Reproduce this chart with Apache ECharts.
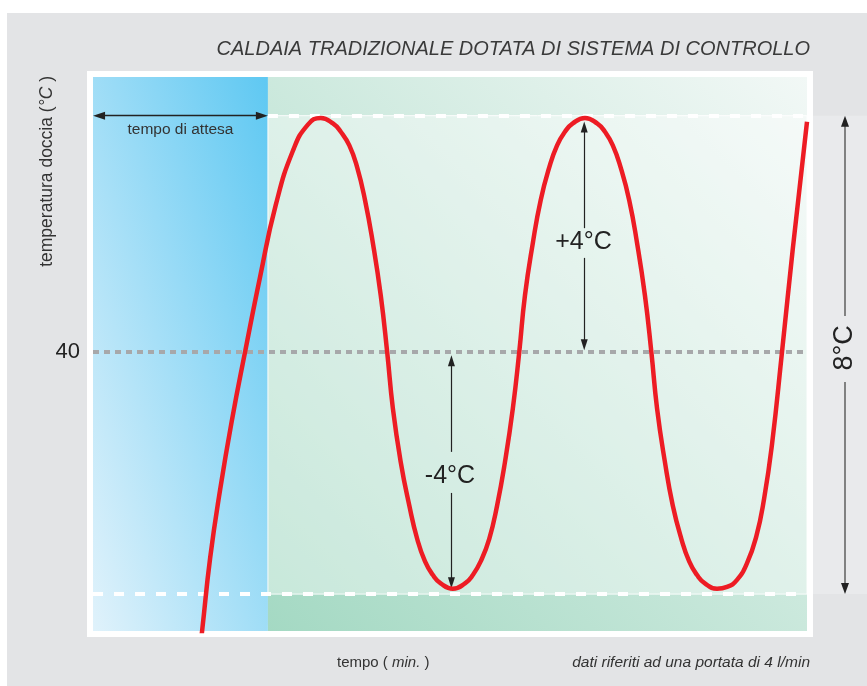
<!DOCTYPE html>
<html>
<head>
<meta charset="utf-8">
<title>Caldaia tradizionale dotata di sistema di controllo</title>
<script src="https://cdn.jsdelivr.net/npm/echarts@6/dist/echarts.min.js"></script>
<style>
  html, body { margin: 0; padding: 0; background: #fff; }
  #chart { width: 867px; height: 686px; }
</style>
</head>
<body>
<div id="chart"></div>
<script>
// tempo (min.) - scala
var tempo = [1.47, 1.53, 1.64, 1.78, 1.95, 2.13, 2.34, 2.56, 2.80, 3.01, 3.19,
  3.36, 3.47, 3.59, 3.70, 3.81, 3.92, 4.03, 4.12,
  4.20, 4.31, 4.43, 4.54, 4.65, 4.76, 4.87, 5.04,
  5.21, 5.32, 5.43, 5.55, 5.66, 5.77, 5.88, 5.97,
  6.05, 6.16, 6.27, 6.39, 6.50, 6.61, 6.72, 6.89,
  7.06, 7.17, 7.28, 7.39, 7.51, 7.62, 7.73, 7.82,
  7.90, 8.01, 8.12, 8.24, 8.35, 8.46, 8.57, 8.74,
  8.88, 9.02, 9.16, 9.29, 9.40, 9.51, 9.65, 9.80, 10.00]
// temperatura doccia (°C)
var temperatura = [34.71, 35.33, 36.53, 37.68, 38.88, 40.00, 41.26, 42.47, 43.38, 43.82, 43.93,
  43.84, 43.70, 43.47, 43.10, 42.55, 41.83, 40.95, 40.00,
  39.05, 38.15, 37.42, 36.86, 36.48, 36.25, 36.11, 36.02,
  36.11, 36.25, 36.48, 36.86, 37.42, 38.15, 39.05, 40.00,
  40.95, 41.83, 42.55, 43.10, 43.47, 43.70, 43.84, 43.93,
  43.84, 43.70, 43.47, 43.10, 42.55, 41.83, 40.95, 40.00,
  39.05, 38.15, 37.42, 36.86, 36.48, 36.25, 36.11, 36.02,
  36.05, 36.17, 36.45, 36.90, 37.54, 38.45, 40.00, 41.72, 43.87]

var tempoMax = 10
var tempoAttesa = 2.45
var tempRif = 40
var limSup = 43.97
var limInf = 35.93
var yMin = 35.31
var yMax = 44.62

// posizioni delle frecce +4 / -4 e delle scritte
var xPiu = 6.88, xMeno = 5.02
var etichette = ['40', '+4°C', '-4°C', '8°C', 'tempo di attesa']

var font = "'Liberation Sans', Arial, sans-serif"
var nero = '#222'

var chart = echarts.init(document.getElementById('chart'), null, { renderer: 'canvas' })

var blu = new echarts.graphic.LinearGradient(0, 1, 1.82, 0.82, [
  { offset: 0, color: '#e0f2fb' },
  { offset: 1, color: '#5ec8f2' }
])
var verde = new echarts.graphic.LinearGradient(0, 1, 1, 0, [
  { offset: 0, color: '#a4d9c3' },
  { offset: 1, color: '#f2f8f6' }
])

function freccia(x1, y1, x2, y2) {
  return [
    { coord: [x1, y1], symbol: 'none' },
    { coord: [x2, y2], symbol: 'triangle', symbolSize: [7, 11], lineStyle: { color: nero, width: 1.2, type: 'solid' } }
  ]
}

chart.setOption({
  animation: false,
  title: {
    text: 'CALDAIA TRADIZIONALE DOTATA DI SISTEMA DI CONTROLLO',
    right: 57,
    top: 39,
    padding: 0,
    textStyle: {
      fontFamily: font,
      fontStyle: 'italic',
      fontWeight: 'normal',
      fontSize: 20,
      color: '#3a3a3a'
    }
  },
  grid: {
    left: 93, right: 60, top: 77, bottom: 55,
    show: true,
    backgroundColor: 'transparent',
    borderColor: '#fff',
    borderWidth: 12
  },
  xAxis: { type: 'value', min: 0, max: tempoMax, show: false },
  yAxis: { type: 'value', min: yMin, max: yMax, show: false },
  series: [{
    type: 'line',
    data: tempo.map(function (t, i) { return [t, temperatura[i]] }),
    smooth: 0.5,
    showSymbol: false,
    z: 3,
    lineStyle: { color: '#ed1c24', width: 4.5 },
    markArea: {
      silent: true,
      z: 1,
      data: [
        [{ xAxis: 0, itemStyle: { color: blu } }, { xAxis: tempoAttesa }],
        [{ xAxis: tempoAttesa, itemStyle: { color: verde } }, { xAxis: tempoMax }],
        [{ xAxis: tempoAttesa, yAxis: limInf, itemStyle: { color: 'rgba(255,255,255,0.38)', borderColor: 'rgba(255,255,255,0.9)', borderWidth: 1 } },
         { xAxis: tempoMax, yAxis: limSup }]
      ]
    },
    markLine: {
      silent: true,
      z: 2,
      symbol: 'none',
      label: { show: false },
      data: [
        { yAxis: tempRif,
          lineStyle: { color: '#a7a8aa', width: 4, type: [6, 5] },
          label: { show: true, position: 'start', distance: 13, formatter: etichette[0], fontSize: 22, color: nero, fontFamily: font } },
        [{ coord: [tempoAttesa, limSup] }, { coord: [tempoMax, limSup], lineStyle: { color: '#fff', width: 4, type: [10, 11] } }],
        { yAxis: limInf, lineStyle: { color: '#fff', width: 4, type: [10, 11] } },
        [{ coord: [0.085, limSup], symbol: 'triangle', symbolSize: [8, 12] },
         { coord: [tempoAttesa - 0.085, limSup], symbol: 'triangle', symbolSize: [8, 12],
           lineStyle: { color: nero, width: 1.3, type: 'solid' },
           label: { show: true, position: 'insideMiddleBottom', distance: 6, formatter: etichette[4], fontSize: 15.5, color: '#333', fontFamily: font } }],
        freccia(xPiu, 42.08, xPiu, 43.78),
        freccia(xPiu, 41.58, xPiu, 40.12),
        freccia(xMeno, 38.32, xMeno, 39.85),
        freccia(xMeno, 37.63, xMeno, 36.12)
      ]
    },
    markPoint: {
      silent: true,
      symbol: 'rect',
      symbolSize: 1,
      itemStyle: { color: 'transparent' },
      label: { show: true, position: 'inside', fontSize: 25, color: nero, fontFamily: font },
      data: [
        { coord: [xPiu - 0.01, 41.85], label: { formatter: etichette[1] } },
        { coord: [xMeno - 0.02, 37.92], label: { formatter: etichette[2] } }
      ]
    }
  }]
})

// posizioni in pixel per la freccia 8°C fuori dal grafico
var ySup = chart.convertToPixel({ gridIndex: 0 }, [0, limSup])[1]
var yInf = chart.convertToPixel({ gridIndex: 0 }, [0, limInf])[1]
var yMid = chart.convertToPixel({ gridIndex: 0 }, [0, tempRif])[1] - 4
var xFreccia = 845

chart.setOption({
  graphic: [
    { type: 'rect', z: -10, shape: { x: 7, y: 13, width: 860, height: 673 }, style: { fill: '#e3e4e6' } },
    { type: 'rect', z: -9, shape: { x: 813, y: ySup, width: 54, height: yInf - ySup }, style: { fill: '#e9eaec' } },
    { type: 'line', z: 10, shape: { x1: xFreccia, y1: ySup + 6, x2: xFreccia, y2: yMid - 32 }, style: { stroke: '#555', lineWidth: 1.4 } },
    { type: 'line', z: 10, shape: { x1: xFreccia, y1: yMid + 34, x2: xFreccia, y2: yInf - 6 }, style: { stroke: '#555', lineWidth: 1.4 } },
    { type: 'polygon', z: 10, shape: { points: [[xFreccia, ySup], [xFreccia - 4, ySup + 11], [xFreccia + 4, ySup + 11]] }, style: { fill: '#222' } },
    { type: 'polygon', z: 10, shape: { points: [[xFreccia, yInf], [xFreccia - 4, yInf - 11], [xFreccia + 4, yInf - 11]] }, style: { fill: '#222' } },
    { type: 'text', z: 10, x: xFreccia, y: yMid, rotation: Math.PI / 2,
      style: { text: etichette[3], align: 'center', verticalAlign: 'middle', fontSize: 27, fontFamily: font, fill: nero } },
    { type: 'text', z: 10, x: 47, y: 76, rotation: Math.PI / 2,
      style: { text: 'temperatura doccia ({i|°C} )', align: 'right', verticalAlign: 'middle', fontSize: 17.5, fontFamily: font, fill: '#333',
        rich: { i: { fontStyle: 'italic', fontSize: 17.5, fontFamily: font, fill: '#333' } } } },
    { type: 'text', z: 10, x: 337, y: 663,
      style: { text: 'tempo ( {i|min.} )', align: 'left', verticalAlign: 'middle', fontSize: 15, fontFamily: font, fill: '#333',
        rich: { i: { fontStyle: 'italic', fontSize: 15, fontFamily: font, fill: '#333' } } } },
    { type: 'text', z: 10, x: 810, y: 663,
      style: { text: 'dati riferiti ad una portata di 4 l/min', align: 'right', verticalAlign: 'middle', fontStyle: 'italic', fontSize: 15.5, fontFamily: font, fill: '#333' } }
  ]
})
</script>
</body>
</html>
